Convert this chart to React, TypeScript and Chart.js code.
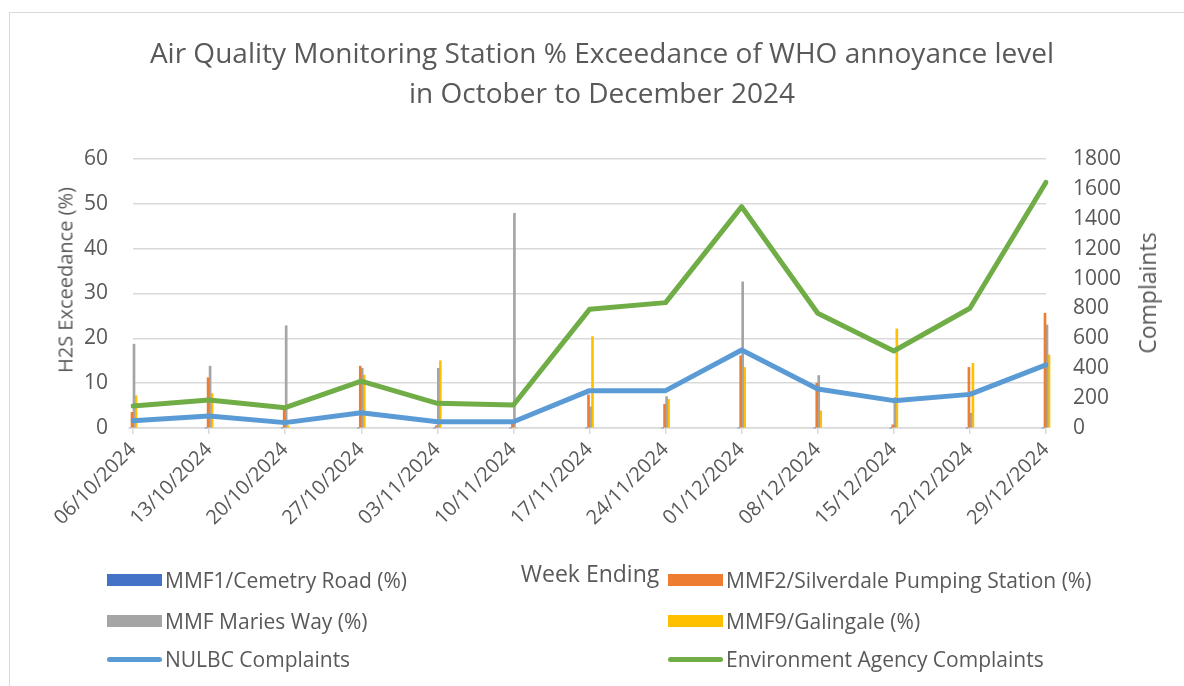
import React, { useEffect, useRef } from 'react';
import { Chart, registerables } from 'chart.js';

Chart.register(...registerables);

const weeks = ['06/10/2024', '13/10/2024', '20/10/2024', '27/10/2024', '03/11/2024', '10/11/2024', '17/11/2024', '24/11/2024', '01/12/2024', '08/12/2024', '15/12/2024', '22/12/2024', '29/12/2024'];
const mmf1Cemetry = [0, 0, 0, 0, 0, 0, 0, 0, 0, 0, 0, 0, 0];
const mmf2Silverdale = [3.5, 11.2, 4, 13.8, 0.5, 1, 7.4, 5.3, 16.1, 10, 0.7, 13.5, 25.6];
const mmfMariesWay = [18.7, 13.8, 22.8, 13.3, 13.3, 47.9, 4.7, 7, 32.6, 11.7, 6.8, 3.3, 23.0];
const mmf9Galingale = [7.2, 7.7, 0.5, 11.8, 15.0, 0, 20.4, 6.4, 13.5, 3.8, 22.1, 14.4, 16.3];
const nulbcComplaints = [49, 80, 36, 102, 42, 42, 250, 250, 522, 261, 183, 225, 422];
const eaComplaints = [147, 187, 136, 314, 165, 154, 794, 839, 1481, 768, 515, 801, 1644];
const leftTicks = [0, 10, 20, 30, 40, 50, 60];
const rightTicks = [0, 200, 400, 600, 800, 1000, 1200, 1400, 1600, 1800];

const FONT = "'Open Sans', sans-serif";
const TXT = '#595959';
const GRID = '#d9d9d9';

const legendItems = [
  { label: 'MMF1/Cemetry Road (%)', color: '#4472c4', kind: 'box', x: 107, y: 580 },
  { label: 'MMF2/Silverdale Pumping Station (%)', color: '#ed7d31', kind: 'box', x: 668, y: 580 },
  { label: 'MMF Maries Way (%)', color: '#a5a5a5', kind: 'box', x: 107, y: 621 },
  { label: 'MMF9/Galingale (%)', color: '#ffc000', kind: 'box', x: 668, y: 621 },
  { label: 'NULBC Complaints', color: '#5b9bd5', kind: 'line', x: 107, y: 659 },
  { label: 'Environment Agency Complaints', color: '#70ad47', kind: 'line', x: 668, y: 659 },
];

export default function App() {
  const ref = useRef<HTMLCanvasElement | null>(null);

  useEffect(() => {
    if (!ref.current) return;
    const bar = (label: string, data: number[], color: string) => ({
      type: 'bar' as const,
      label,
      data,
      backgroundColor: color,
      borderWidth: 0,
      barThickness: 2,
      yAxisID: 'y',
      order: 2,
      clip: false as any,
    });
    const line = (label: string, data: number[], color: string) => ({
      type: 'line' as const,
      label,
      data,
      borderColor: color,
      backgroundColor: color,
      borderWidth: 5,
      pointRadius: 0,
      tension: 0,
      borderJoinStyle: 'round' as const,
      borderCapStyle: 'round' as const,
      yAxisID: 'y2',
      order: 1,
    });
    const chart = new Chart(ref.current, {
      type: 'bar',
      data: {
        labels: weeks,
        datasets: [
          bar('MMF1/Cemetry Road (%)', mmf1Cemetry, '#4472c4'),
          bar('MMF2/Silverdale Pumping Station (%)', mmf2Silverdale, '#ed7d31'),
          bar('MMF Maries Way (%)', mmfMariesWay, '#a5a5a5'),
          bar('MMF9/Galingale (%)', mmf9Galingale, '#ffc000'),
          line('NULBC Complaints', nulbcComplaints, '#5b9bd5'),
          line('Environment Agency Complaints', eaComplaints, '#70ad47'),
        ] as any,
      },
      options: {
        responsive: false,
        animation: false,
        layout: { padding: { top: 159, bottom: 128, left: 0, right: 0 } },
        plugins: { legend: { display: false }, title: { display: false }, tooltip: { enabled: false } },
        scales: {
          x: {
            offset: false,
            grid: { offset: false, drawOnChartArea: false, drawTicks: true, tickLength: 6, color: GRID, lineWidth: 1.5 },
            border: { color: GRID, width: 1.5 },
            ticks: { minRotation: 45, maxRotation: 45, color: TXT, font: { family: FONT, size: 20 }, padding: 4, autoSkip: false },
            afterFit: (s: any) => { s.height = 130; },
          },
          y: {
            position: 'left',
            min: 0,
            max: 60,
            afterBuildTicks: (s: any) => { s.ticks = leftTicks.map((v) => ({ value: v })); },
            grid: { color: GRID, lineWidth: 1.5, drawTicks: false },
            border: { display: false },
            ticks: { color: TXT, font: { family: FONT, size: 21 }, padding: 25, callback: (v: any) => String(v) },
            afterFit: (s: any) => { s.width = 133; },
          },
          y2: {
            position: 'right',
            min: 0,
            max: 1800,
            afterBuildTicks: (s: any) => { s.ticks = rightTicks.map((v) => ({ value: v })); },
            grid: { display: false, drawTicks: false },
            border: { display: false },
            ticks: { color: TXT, font: { family: FONT, size: 21 }, padding: 27, callback: (v: any) => String(v) },
            afterFit: (s: any) => { s.width = 138; },
          },
        },
      } as any,
    });
    return () => chart.destroy();
  }, []);

  const textStyle: React.CSSProperties = { position: 'absolute', fontFamily: FONT, color: TXT, whiteSpace: 'nowrap' };

  return (
    <div style={{ position: 'fixed', left: 0, top: 0, width: 1184, height: 686, background: '#fff', overflow: 'hidden' }}>
      <div style={{ position: 'absolute', left: 9, top: 12, width: 1300, height: 800, border: '1.5px solid #d9d9d9' }} />
      <canvas ref={ref} width={1184} height={686} style={{ position: 'absolute', left: 0, top: 0, width: 1184, height: 686 }} />
      <div style={{ ...textStyle, left: 0, width: 1204, top: 32, textAlign: 'center', fontSize: 28, lineHeight: '40px' }}>
        Air Quality Monitoring Station % Exceedance of WHO annoyance level
        <br />
        in October to December 2024
      </div>
      <div style={{ ...textStyle, left: 65, top: 280, fontSize: 20, transform: 'translate(-50%, -50%) rotate(-90deg)' }}>H2S Exceedance (%)</div>
      <div style={{ ...textStyle, left: 1147, top: 293, fontSize: 23, transform: 'translate(-50%, -50%) rotate(-90deg)' }}>Complaints</div>
      <div style={{ ...textStyle, left: 590, top: 573, fontSize: 23, transform: 'translate(-50%, -50%)' }}>Week Ending</div>
      {legendItems.map((it) => (
        <div key={it.label} style={{ ...textStyle, left: it.x, top: it.y, transform: 'translateY(-50%)', display: 'flex', alignItems: 'center', fontSize: 21 }}>
          <span
            style={{
              display: 'inline-block',
              width: 55,
              height: it.kind === 'box' ? 12 : 5,
              borderRadius: it.kind === 'box' ? 0 : 3,
              background: it.color,
              marginRight: 3,
            }}
          />
          <span>{it.label}</span>
        </div>
      ))}
    </div>
  );
}
